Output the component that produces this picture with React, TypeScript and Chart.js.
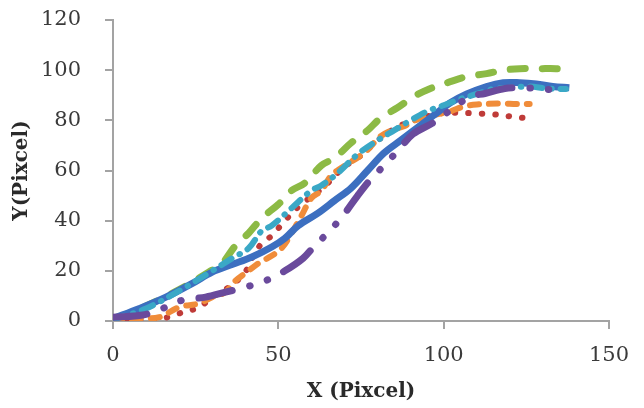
import React, { useEffect, useRef } from "react";
import { Chart, registerables } from "chart.js";

Chart.register(...registerables);

// Series values (x, y)
const blueX = [0, 8, 16, 24, 30, 36, 42, 48, 52, 56, 62, 67, 72, 77, 82, 87, 92, 97, 102, 107, 113, 118, 123, 128, 133, 138];
const blueY = [1, 5, 9.5, 15, 19.5, 22.5, 25.5, 29.5, 33, 38, 43, 48, 53, 60, 67, 72, 77, 82, 87, 90.5, 93.5, 95, 95, 94.5, 93.5, 93];

const greenX = [0, 10, 20, 29, 33, 37, 41, 45, 50, 54, 58, 63, 67, 72, 77, 81, 86, 91, 96, 102, 107, 113, 118, 123, 129, 134, 139];
const greenY = [0.5, 6, 12.5, 19.5, 23, 30, 35, 41, 46.5, 52, 55, 62, 65, 71, 76, 81, 85, 89.5, 92.7, 95.4, 97.4, 98.6, 100, 100.6, 100.6, 100.6, 99.6];

const orangeX = [0, 5, 8, 14, 20, 26, 30, 34, 37, 41, 44, 48, 51, 54, 57, 60, 63, 66, 69, 72, 76, 81, 85, 88, 92, 98, 102, 106, 110, 117, 122, 126];
const orangeY = [0, 0.5, 1, 1.5, 5.5, 7, 9.5, 11.5, 16, 20, 23, 26, 29, 35, 42, 49, 52, 58, 61, 63.5, 67, 73.7, 76.4, 77.6, 80.4, 82.4, 83.6, 85.5, 86.3, 86.7, 86.5, 86.5];

const redX = [0, 10, 17, 20, 26, 30, 34.5, 37.5, 40, 42, 45, 48, 52, 57, 60, 65, 69.5, 74.7, 79.8, 83.8, 87.7, 92, 99, 104, 109, 115, 120, 125.5];
const redY = [0, 0.5, 1.6, 3, 5.5, 9.5, 13, 16, 19.5, 25, 31, 34, 40, 46.7, 49.5, 55, 61, 65.7, 71.7, 75.6, 78.4, 80.4, 82.8, 83, 82.8, 82.4, 81.6, 80.8];

const cyanX = [0, 10, 20, 30, 36, 41, 45, 48, 54, 60, 63, 68, 74, 80, 85, 90, 95, 100, 105, 110, 115, 120, 126, 131, 137];
const cyanY = [0.5, 5, 12, 20, 25, 29, 36, 38, 45, 52, 54, 59, 66.5, 72, 76, 80, 83.6, 86, 88.5, 90.5, 92.5, 93, 93.5, 92.7, 92.5];

const purpleX = [0, 9, 15, 21, 28, 34, 40, 46, 52, 57.5, 61, 65.6, 70, 74, 78, 82, 86, 90.7, 96.5, 102, 108, 112.5, 118.5, 125, 131, 137];
const purpleY = [1.5, 2.4, 5, 8.3, 9.5, 11.5, 13.5, 16, 20, 25, 30, 36, 42.8, 50, 56.6, 62, 67.7, 74.5, 78.8, 84, 89.5, 90.7, 92.7, 93, 92.3, 92.5];

const xTicks = [0, 50, 100, 150];
const yTicks = [0, 20, 40, 60, 80, 100, 120];

const pts = (xs: number[], ys: number[]) => xs.map((x, i) => ({ x, y: ys[i] }));

export default function App() {
  const ref = useRef<HTMLCanvasElement | null>(null);
  useEffect(() => {
    document.body.style.margin = "0";
    const axisColor = "#a3a3a3";
    const tickFont = { family: "DejaVu Serif", size: 21 };
    const titleFont = { family: "DejaVu Serif", size: 20, weight: "bold" as const };
    const common = { pointRadius: 0, fill: false, tension: 0.35 };
    const chart = new Chart(ref.current!, {
      type: "line",
      data: {
        datasets: [
          { ...common, data: pts(purpleX, purpleY), borderColor: "#6a4a9c", borderWidth: 7, borderDash: [34, 18, 0.5, 18, 0.5, 18], borderCapStyle: "round", order: 1 },
          { ...common, data: pts(cyanX, cyanY), borderColor: "#3aa8c6", borderWidth: 6, borderDash: [12, 9, 0.5, 9], borderCapStyle: "round", order: 2 },
          { ...common, data: pts(blueX, blueY), borderColor: "#3c6fc0", borderWidth: 7, order: 3 },
          { ...common, data: pts(orangeX, orangeY), borderColor: "#f08c3a", borderWidth: 6, borderDash: [9, 10], borderCapStyle: "round", order: 4 },
          { ...common, data: pts(redX, redY), borderColor: "#bf3b38", borderWidth: 6, borderDash: [0.5, 13], borderCapStyle: "round", order: 5 },
          { ...common, data: pts(greenX, greenY), borderColor: "#8cba45", borderWidth: 7, borderDash: [15, 17], borderCapStyle: "round", order: 6 },
        ],
      },
      options: {
        responsive: false,
        animation: false,
        layout: { padding: { top: 20, right: 35, left: 0, bottom: 0 } },
        plugins: { legend: { display: false }, tooltip: { enabled: false } },
        scales: {
          x: {
            type: "linear",
            min: 0,
            max: 150,
            afterBuildTicks: (s: any) => { s.ticks = xTicks.map((v) => ({ value: v })); },
            afterFit: (s: any) => { s.height = 87; s.paddingLeft = 0; s.paddingRight = 0; },
            border: { display: true, color: axisColor, width: 2 },
            grid: { drawOnChartArea: false, drawTicks: true, tickLength: 8, color: axisColor, lineWidth: 2 },
            ticks: { font: tickFont, color: "#3a3a3a", padding: 14, maxRotation: 0 },
            title: { display: true, text: "X (Pixcel)", font: titleFont, color: "#2a2a2a", padding: { top: 0, bottom: 4 } },
          },
          y: {
            type: "linear",
            min: 0,
            max: 120,
            afterBuildTicks: (s: any) => { s.ticks = yTicks.map((v) => ({ value: v })); },
            afterFit: (s: any) => { s.width = 113; s.paddingTop = 0; s.paddingBottom = 0; },
            border: { display: true, color: axisColor, width: 2 },
            grid: { drawOnChartArea: false, drawTicks: true, tickLength: 8, color: axisColor, lineWidth: 2 },
            ticks: { font: tickFont, color: "#3a3a3a", padding: 24 },
            title: { display: true, text: "Y(Pixcel)", font: titleFont, color: "#2a2a2a", padding: { top: 10, bottom: 0 } },
          },
        },
      },
    } as any);
    return () => chart.destroy();
  }, []);
  return (
    <div style={{ width: 644, height: 408 }}>
      <canvas ref={ref} width={644} height={408} style={{ display: "block" }} />
    </div>
  );
}
